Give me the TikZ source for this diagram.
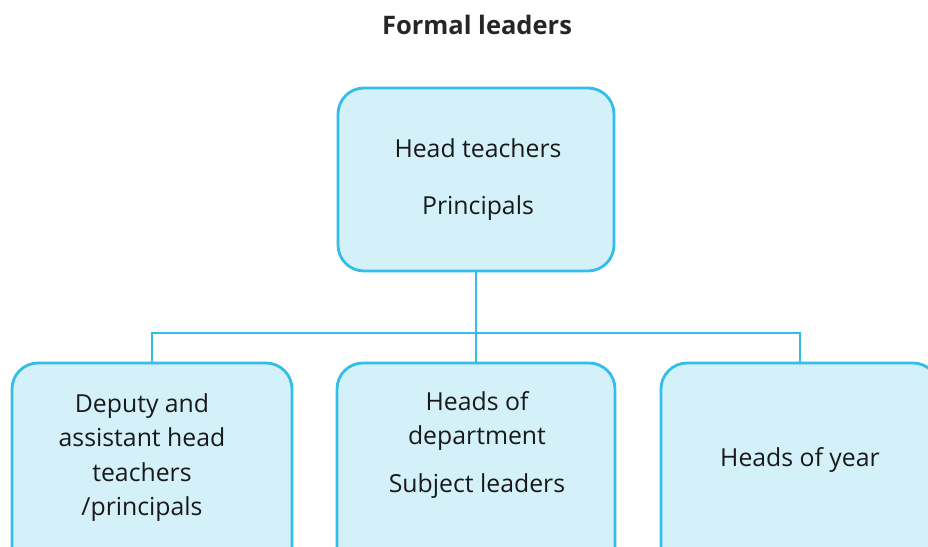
\documentclass[tikz,border=0pt]{standalone}
\usepackage{fontspec}
\setmainfont{Open Sans}
\definecolor{bordc}{HTML}{33BDEB}
\definecolor{fillc}{HTML}{D4F1FA}
\begin{document}
\begin{tikzpicture}[x=1pt,y=-1pt,
  box/.style={draw=bordc,fill=fillc,line width=2.8pt,rounded corners=26pt,inner sep=0pt},
  txt/.style={align=center,font=\fontsize{24.8}{34.3}\selectfont,text=black!90,inner sep=0pt},
  link/.style={draw=bordc,line width=2.6pt}]
\useasboundingbox (0,0) rectangle (928,546);
\clip (0,0) rectangle (928,546);
\node[font=\bfseries\fontsize{25.5}{30}\selectfont,text=black!85] (title) at (477,25) {Formal leaders};
\node[box,minimum width=276pt,minimum height=183pt] (top) at (476,179.5) {};
\node[box,minimum width=280pt,minimum height=210pt] (left) at (152,468) {};
\node[box,minimum width=278pt,minimum height=210pt] (mid) at (476,468) {};
\node[box,minimum width=278pt,minimum height=210pt] (right) at (800,468) {};
\node[txt] (ttop) at (478,179.5) {Head teachers\\[23pt]Principals};
\node[txt] (tleft) at (142,457.5) {Deputy and\\assistant head\\teachers\\/principals};
\node[txt] (tmid) at (477,445) {Heads of\\department\\[14pt]Subject leaders};
\node[txt] (tright) at (800,460) {Heads of year};
\coordinate (j) at (476,333);
\draw[link] (top.south) -- (j);
\draw[link] (left.north) |- (j);
\draw[link] (right.north) |- (j);
\draw[link] (mid.north) -- (j);
\end{tikzpicture}
\end{document}
